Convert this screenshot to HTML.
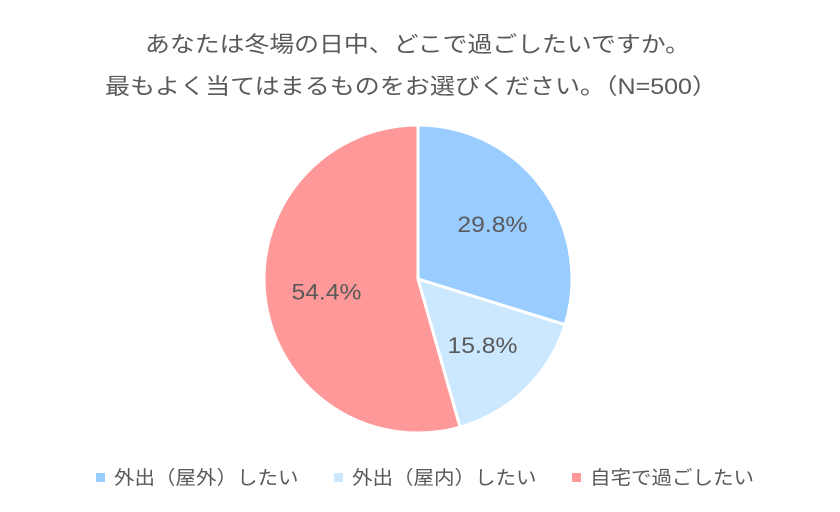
<!DOCTYPE html>
<html><head><meta charset="utf-8">
<style>
body{margin:0;background:#fff;width:840px;height:507px;overflow:hidden;font-family:"Liberation Sans","Noto Sans CJK JP",sans-serif;}
svg text{font-family:"Liberation Sans","Noto Sans CJK JP",sans-serif;fill:#595959;}
</style></head>
<body>
<svg id="chart" width="840" height="507">
<text x="145" y="52" font-size="22" textLength="545" lengthAdjust="spacingAndGlyphs">あなたは冬場の日中、どこで過ごしたいですか。</text>
<text x="105" y="94" font-size="22" textLength="612" lengthAdjust="spacingAndGlyphs">最もよく当てはまるものをお選びください。（N=500）</text>
<g id="slices"></g>
<g id="legend"></g>
</svg>
<script>
const categories=["外出（屋外）したい","外出（屋内）したい","自宅で過ごしたい"];
const values=[29.8,15.8,54.4];
const colors=["#99CCFF","#CCE8FF","#FF9999"];
const cx=418,cy=279,r=154;
const ns="http://www.w3.org/2000/svg";
const g=document.getElementById('slices');
const total=values.reduce((a,b)=>a+b,0);
let a0=-Math.PI/2;
values.forEach((v,i)=>{
  const a1=a0+v/total*2*Math.PI;
  const x0=cx+r*Math.cos(a0),y0=cy+r*Math.sin(a0),x1=cx+r*Math.cos(a1),y1=cy+r*Math.sin(a1);
  const p=document.createElementNS(ns,'path');
  p.setAttribute('d',`M${cx},${cy}L${x0},${y0}A${r},${r} 0 ${a1-a0>Math.PI?1:0} 1 ${x1},${y1}Z`);
  p.setAttribute('fill',colors[i]);p.setAttribute('stroke','#fff');p.setAttribute('stroke-width','3');
  
  
  g.appendChild(p);
  const m=(a0+a1)/2,lr=r*0.6;
  const t=document.createElementNS(ns,'text');
  t.setAttribute('x',cx+lr*Math.cos(m));t.setAttribute('y',cy+lr*Math.sin(m)+8);
  t.setAttribute('text-anchor','middle');t.setAttribute('font-size','22');
  t.setAttribute('textLength','70');t.setAttribute('lengthAdjust','spacingAndGlyphs');
  t.textContent=v.toFixed(1)+'%';
  
  
  g.appendChild(t);
  a0=a1;
});
const lg=document.getElementById('legend');
const lx=[96,334,572];
categories.forEach((c,i)=>{
  const s=document.createElementNS(ns,'rect');
  s.setAttribute('x',lx[i]);s.setAttribute('y',473);s.setAttribute('width',9);s.setAttribute('height',9);s.setAttribute('fill',colors[i]);
  
  
  lg.appendChild(s);
  const t=document.createElementNS(ns,'text');
  t.setAttribute('x',lx[i]+18);t.setAttribute('y',484);t.setAttribute('font-size','19');
  t.setAttribute('textLength',String(c.length*20.5));t.setAttribute('lengthAdjust','spacingAndGlyphs');
  t.textContent=c;
  
  
  lg.appendChild(t);
});
</script>
</body></html>
